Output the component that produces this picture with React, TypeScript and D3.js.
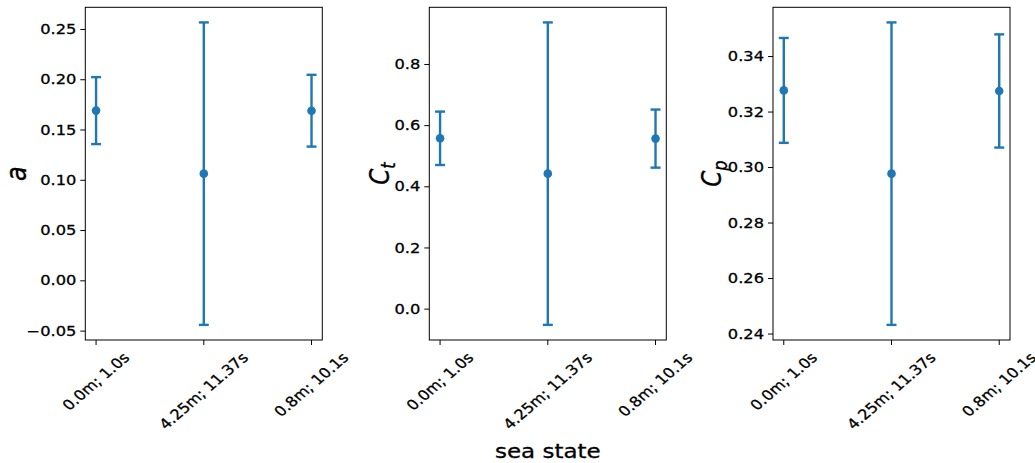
import React from "react";
import * as d3 from "d3";

const categories = ["0.0m; 1.0s", "4.25m; 11.37s", "0.8m; 10.1s"];

const aMean = [0.1693, 0.1066, 0.1692];
const aErr = [0.0333, 0.1504, 0.0357];

const ctMean = [0.5586, 0.443, 0.5576];
const ctErr = [0.0873, 0.4945, 0.095];

const cpMean = [0.3278, 0.2978, 0.3276];
const cpErr = [0.0189, 0.0545, 0.0204];

const aTicks = [-0.05, 0.0, 0.05, 0.1, 0.15, 0.2, 0.25];
const ctTicks = [0.0, 0.2, 0.4, 0.6, 0.8];
const cpTicks = [0.24, 0.26, 0.28, 0.3, 0.32, 0.34];

const W = 1035;
const H = 463;
const FONT = "DejaVu Sans";
const BLUE = "#1f77b4";
const SX = 1.16; // horizontal stretch of glyphs seen in the reference
const TS = 0.3; // slight text weight

const panels = [
  { mean: aMean, err: aErr, ticks: aTicks, dec: 2, left: 85.3, labelOff: 59.5, label: "a", sub: "", labelSize: 24 },
  { mean: ctMean, err: ctErr, ticks: ctTicks, dec: 1, left: 429.3, labelOff: 40.5, label: "C", sub: "t", labelSize: 23 },
  { mean: cpMean, err: cpErr, ticks: cpTicks, dec: 2, left: 773, labelOff: 52, label: "C", sub: "p", labelSize: 23 },
];

const TOP = 7.3;
const PH = 332.7;
const PW = 237;
const TICK_FS = 14;

let ctx: CanvasRenderingContext2D | null = null;
function measure(t: string, size: number) {
  if (!ctx) {
    const c = document.createElement("canvas");
    ctx = c.getContext("2d");
  }
  if (!ctx) return t.length * size * 0.6;
  ctx.font = `${size}px "${FONT}"`;
  return ctx.measureText(t).width;
}

function fmt(v: number, dec: number) {
  const s = Math.abs(v).toFixed(dec);
  return (v < -1e-9 ? "\u2212" : "") + s;
}

function Panel({ p }: { p: typeof panels[number] }) {
  const lows = p.mean.map((m, i) => m - p.err[i]);
  const highs = p.mean.map((m, i) => m + p.err[i]);
  const lo = d3.min(lows)!;
  const hi = d3.max(highs)!;
  const pad = (hi - lo) * 0.05;
  const y = d3.scaleLinear().domain([lo - pad, hi + pad]).range([TOP + PH, TOP]);
  const x = d3.scaleLinear().domain([-0.1, 2.1]).range([p.left, p.left + PW]);
  const bottom = TOP + PH;
  const cap = 5;
  const lh = TICK_FS * 1.164;
  return (
    <g>
      <rect x={p.left} y={TOP} width={PW} height={PH} fill="white" stroke="none" />
      {p.mean.map((m, i) => (
        <g key={i}>
          <line x1={x(i)} x2={x(i)} y1={y(lows[i])} y2={y(highs[i])} stroke={BLUE} strokeWidth={2.4} />
          <line x1={x(i) - cap} x2={x(i) + cap} y1={y(lows[i])} y2={y(lows[i])} stroke={BLUE} strokeWidth={2.4} />
          <line x1={x(i) - cap} x2={x(i) + cap} y1={y(highs[i])} y2={y(highs[i])} stroke={BLUE} strokeWidth={2.4} />
          <circle cx={x(i)} cy={y(m)} r={4.3} fill={BLUE} />
        </g>
      ))}
      <rect x={p.left} y={TOP} width={PW} height={PH} fill="none" stroke="black" strokeWidth={1} />
      {p.ticks.map((t) => (
        <g key={t}>
          <line x1={p.left - 5} x2={p.left} y1={y(t)} y2={y(t)} stroke="black" strokeWidth={1} />
          <text
            transform={`translate(${p.left - 9},${y(t)}) scale(${SX},1)`}
            textAnchor="end"
            dominantBaseline="central"
            fontFamily={FONT}
            fontSize={TICK_FS}
            fill="black"
            stroke="black"
            strokeWidth={TS}
          >
            {fmt(t, p.dec)}
          </text>
        </g>
      ))}
      {categories.map((c, i) => {
        const w = measure(c, TICK_FS);
        const cy = bottom + 5 + 4.5 + ((w + lh) * Math.SQRT1_2) / 2;
        return (
          <g key={c}>
            <line x1={x(i)} x2={x(i)} y1={bottom} y2={bottom + 5} stroke="black" strokeWidth={1} />
            <text
              transform={`translate(${x(i)},${cy}) scale(${SX},1) rotate(-45)`}
              textAnchor="middle"
              dominantBaseline="central"
              fontFamily={FONT}
              fontSize={TICK_FS}
              fill="black"
              stroke="black"
              strokeWidth={TS}
            >
              {c}
            </text>
          </g>
        );
      })}
      <text
        transform={`translate(${p.left - p.labelOff},${TOP + PH / 2}) scale(${SX},1) rotate(-90)`}
        textAnchor="middle"
        fontFamily={FONT}
        fontStyle="italic"
        fontSize={p.labelSize}
        fill="black"
        stroke="black"
        strokeWidth={TS}
      >
        {p.label}
        {p.sub ? (
          <tspan fontSize={p.labelSize * 0.7} dy={p.labelSize * 0.22}>
            {p.sub}
          </tspan>
        ) : null}
      </text>
    </g>
  );
}

export default function App() {
  return (
    <svg
      width={W}
      height={H}
      viewBox={`0 0 ${W} ${H}`}
      style={{ position: "absolute", left: 0, top: 0, background: "white" }}
    >
      <rect x={0} y={0} width={W} height={H} fill="white" />
      {panels.map((p, i) => (
        <Panel key={i} p={p} />
      ))}
      <text
        transform={`translate(${panels[1].left + PW / 2},458) scale(${SX},1)`}
        textAnchor="middle"
        fontFamily={FONT}
        fontSize={19.8}
        fill="black"
        stroke="black"
        strokeWidth={TS}
      >
        sea state
      </text>
    </svg>
  );
}
